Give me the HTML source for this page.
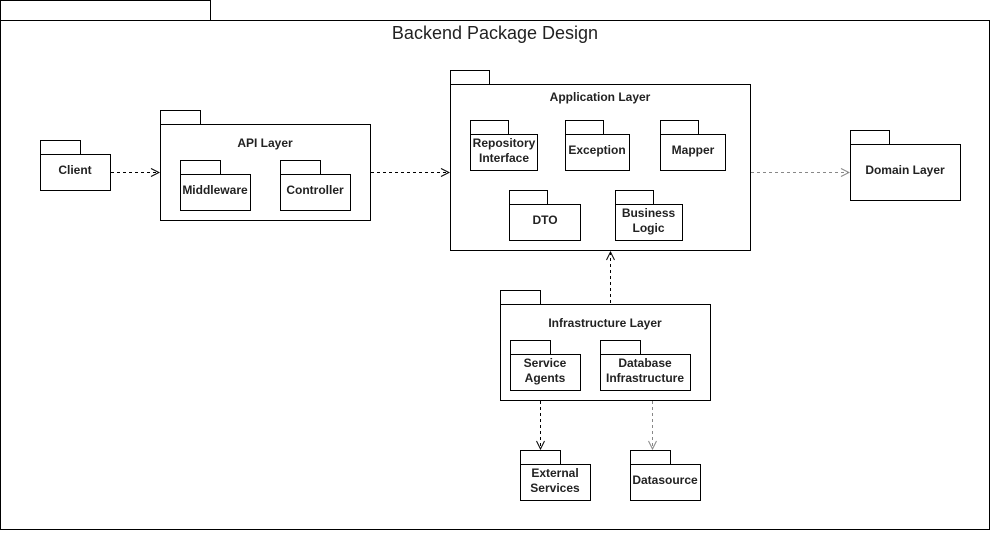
<!DOCTYPE html>
<html><head><meta charset="utf-8"><style>
html,body{margin:0;padding:0;background:#fff;}
text{font-family:"Liberation Sans",Arial,sans-serif;fill:#222;}
.l{font-size:12px;font-weight:bold;text-anchor:middle;}
</style></head><body>
<svg width="991" height="531" viewBox="0 0 991 531" xmlns="http://www.w3.org/2000/svg">
<defs>
<marker id="a" markerWidth="10" markerHeight="10" refX="9" refY="5" orient="auto" markerUnits="userSpaceOnUse">
<path d="M1,1 L9,5 L1,9" fill="none" stroke="#000" stroke-width="1"/></marker>
<marker id="g" markerWidth="10" markerHeight="10" refX="9" refY="5" orient="auto" markerUnits="userSpaceOnUse">
<path d="M1,1 L9,5 L1,9" fill="none" stroke="#888" stroke-width="1"/></marker>
</defs>
<g fill="#fff" stroke="#000" stroke-width="1">
<rect x="0.5" y="0.5" width="210" height="20"/>
<rect x="0.5" y="20.5" width="989" height="509"/>
<rect x="40.5" y="140.5" width="40" height="14"/><rect x="40.5" y="154.5" width="70" height="36"/>
<rect x="160.5" y="110.5" width="40" height="14"/><rect x="160.5" y="124.5" width="210" height="96"/>
<rect x="180.5" y="160.5" width="40" height="14"/><rect x="180.5" y="174.5" width="70" height="36"/>
<rect x="280.5" y="160.5" width="40" height="14"/><rect x="280.5" y="174.5" width="70" height="36"/>
<rect x="450.5" y="70.5" width="39" height="14"/><rect x="450.5" y="84.5" width="300" height="166"/>
<rect x="470.5" y="120.5" width="38" height="14"/><rect x="470.5" y="134.5" width="67" height="36"/>
<rect x="565.5" y="120.5" width="38" height="14"/><rect x="565.5" y="134.5" width="64" height="36"/>
<rect x="660.5" y="120.5" width="38" height="14"/><rect x="660.5" y="134.5" width="65" height="36"/>
<rect x="509.5" y="190.5" width="38" height="14"/><rect x="509.5" y="204.5" width="71" height="36"/>
<rect x="615.5" y="190.5" width="38" height="14"/><rect x="615.5" y="204.5" width="67" height="36"/>
<rect x="850.5" y="130.5" width="39" height="14"/><rect x="850.5" y="144.5" width="110" height="56"/>
<rect x="500.5" y="290.5" width="40" height="14"/><rect x="500.5" y="304.5" width="210" height="96"/>
<rect x="510.5" y="340.5" width="40" height="14"/><rect x="510.5" y="354.5" width="70" height="36"/>
<rect x="600.5" y="340.5" width="40" height="14"/><rect x="600.5" y="354.5" width="90" height="36"/>
<rect x="520.5" y="450.5" width="40" height="14"/><rect x="520.5" y="464.5" width="70" height="36"/>
<rect x="630.5" y="450.5" width="40" height="14"/><rect x="630.5" y="464.5" width="70" height="36"/>
</g>
<g fill="none" stroke-width="1" stroke-dasharray="3,3">
<line x1="111" y1="172.5" x2="159" y2="172.5" stroke="#000" marker-end="url(#a)"/>
<line x1="371" y1="172.5" x2="449" y2="172.5" stroke="#000" marker-end="url(#a)"/>
<line x1="751" y1="172.5" x2="849" y2="172.5" stroke="#888" marker-end="url(#g)"/>
<line x1="610.5" y1="303" x2="610.5" y2="252" stroke="#000" marker-end="url(#a)"/>
<line x1="540.5" y1="401" x2="540.5" y2="449" stroke="#000" marker-end="url(#a)"/>
<line x1="652.5" y1="401" x2="652.5" y2="449" stroke="#888" marker-end="url(#g)"/>
</g>
<text x="495" y="39" style="font-size:18px;text-anchor:middle">Backend Package Design</text>
<text class="l" x="75" y="174">Client</text>
<text class="l" x="265" y="147">API Layer</text>
<text class="l" x="215" y="194">Middleware</text>
<text class="l" x="315" y="194">Controller</text>
<text class="l" x="600" y="101">Application Layer</text>
<text class="l" x="504" y="147">Repository</text>
<text class="l" x="504" y="162">Interface</text>
<text class="l" x="597" y="154">Exception</text>
<text class="l" x="693" y="154">Mapper</text>
<text class="l" x="545" y="224">DTO</text>
<text class="l" x="648.5" y="217">Business</text>
<text class="l" x="648.5" y="232">Logic</text>
<text class="l" x="905" y="174">Domain Layer</text>
<text class="l" x="605" y="327">Infrastructure Layer</text>
<text class="l" x="545" y="367">Service</text>
<text class="l" x="545" y="382">Agents</text>
<text class="l" x="645" y="367">Database</text>
<text class="l" x="645" y="382">Infrastructure</text>
<text class="l" x="555" y="477">External</text>
<text class="l" x="555" y="492">Services</text>
<text class="l" x="665" y="484">Datasource</text>
</svg>
</body></html>
